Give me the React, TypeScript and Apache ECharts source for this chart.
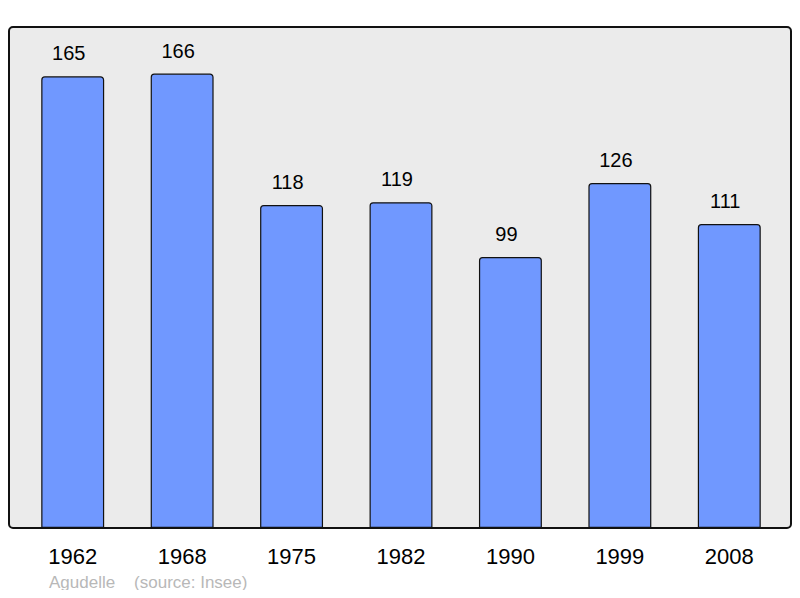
import * as echarts from 'echarts';
import React, { useEffect, useRef } from 'react';

const years = ['1962', '1968', '1975', '1982', '1990', '1999', '2008'];
const population = [165, 166, 118, 119, 99, 126, 111];

export default function App() {
  const chartRef = useRef<HTMLDivElement>(null);

  useEffect(() => {
    const chart = echarts.init(chartRef.current, null, { renderer: 'svg' });

    const option = {
      animation: false,
      textStyle: { fontFamily: 'Liberation Sans, Arial, sans-serif' },
      graphic: [
        {
          type: 'rect',
          z: -10,
          shape: { x: 9, y: 27, width: 782, height: 501, r: 4 },
          style: { fill: '#ebebeb', stroke: '#111', lineWidth: 2 },
        },
        {
          type: 'text',
          left: 49,
          top: 574,
          style: {
            text: 'Agudelle    (source: Insee)',
            fill: '#b8b8b8',
            font: '17px Liberation Sans, Arial, sans-serif',
          },
        },
      ],
      grid: { left: 18, right: 16, top: 27, bottom: 70, containLabel: false },
      xAxis: {
        type: 'category',
        data: years,
        axisLine: { show: false },
        axisTick: { show: false },
        axisLabel: { color: '#000', fontSize: 22, margin: 17 },
      },
      yAxis: { type: 'value', min: 0, max: 183, show: false },
      series: [
        {
          type: 'bar',
          data: population,
          barWidth: '57.5%',
          itemStyle: {
            color: '#7098ff',
            borderColor: '#111',
            borderWidth: 1.2,
            borderRadius: [3, 3, 0, 0],
          },
          label: {
            show: true,
            position: 'top',
            distance: 13,
            offset: [-4, 0],
            color: '#000',
            fontSize: 20,
          },
        },
      ],
    };

    chart.setOption(option);
    return () => chart.dispose();
  }, []);

  return <div ref={chartRef} style={{ width: 800, height: 598, margin: -8 }} />;
}
